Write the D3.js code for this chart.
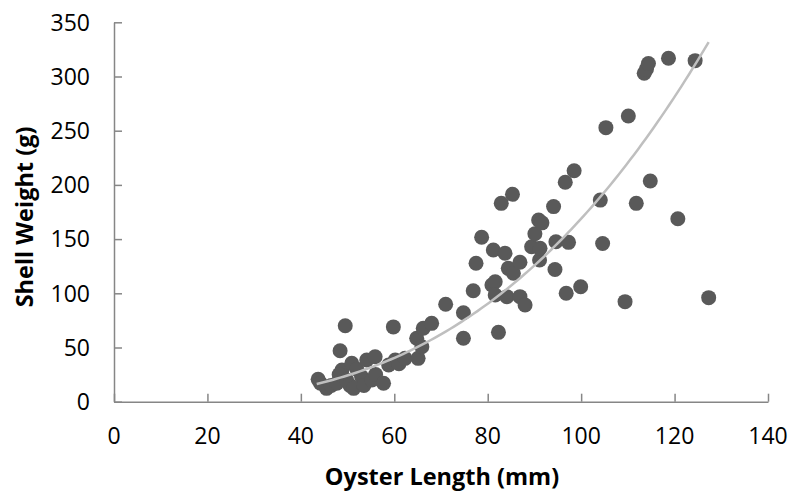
<!DOCTYPE html>
<html><head><meta charset="utf-8">
<script src="https://cdn.jsdelivr.net/npm/d3@7"></script>
<style>
body{margin:0;background:#fff;}
text{font-family:"Open Sans",sans-serif;fill:#000;}
</style></head>
<body><svg id="c" width="792" height="494"></svg>
<script>
const xTicks = [0,20,40,60,80,100,120,140];
const yTicks = [0,50,100,150,200,250,300,350];
const lengthMm = [43.7,44.2,45.5,46.5,47.7,48.4,48.8,48.2,49.5,49.8,50.5,50.9,51.3,52,53,53.5,54.1,55.2,55.9,56,57.7,58.8,59.8,60.2,61,62.3,64.8,65.1,65.9,66.2,68,71,74.8,74.8,82.3,
76.9,77.5,78.7,80.9,81.2,81.6,81.6,82.9,83.7,84.1,84.4,85.3,85.5,86.9,86.9,88,89.4,90.1,90.9,91.6,91.1,91.2,94.1,94.4,94.6,96.6,96.8,97.3,98.5,99.9,104.1,104.6,105.3,109.4,110.1,111.8,113.5,114.0,114.4,114.8,118.7,120.7,124.4,127.3];
const weightG = [20.6,17,12.3,15,17,47,29.3,25,70,20,15,35.4,12.3,30,23,15,38.5,20,41.5,25,17,33.9,69,38.5,35,40,58.5,40,50.7,67.7,72.3,89.9,82,58.5,64,
102.4,127.7,151.7,107.7,140,110.7,98.4,183,137,96.9,123,191.3,118.5,128.6,96.9,89.2,143,155,167.6,165,130.7,141.5,180,122,147.6,202.4,100,147,213,106,186,146,252.8,92.3,263.5,183,303,307,312,203.6,316.8,168.8,314.6,96];
// power trendline y = a * x^b
const trendA = 4.24e-4, trendB = 2.8, trendFrom = 43.4, trendTo = 127.3;

const svg = d3.select("#c");
const x = d3.scaleLinear().domain([0,140]).range([114,768]);
const y = d3.scaleLinear().domain([0,350]).range([401.7,22.3]);
const axisColor = "#868686";

// axes
const gx = svg.append("g").attr("transform","translate(0,"+y(0)+")")
  .call(d3.axisBottom(x).tickValues(xTicks).tickSizeInner(-8).tickSizeOuter(0).tickPadding(999));
const gy = svg.append("g").attr("transform","translate("+x(0)+",0)")
  .call(d3.axisLeft(y).tickValues(yTicks).tickSizeInner(-8).tickSizeOuter(0).tickPadding(999));
[gx,gy].forEach(g=>{
  g.selectAll("path.domain").attr("stroke",axisColor).attr("stroke-width",1.5);
  g.selectAll(".tick line").attr("stroke",axisColor).attr("stroke-width",1.5);
  g.selectAll(".tick text").remove();
});
// tick labels
svg.append("g").selectAll("text").data(xTicks).join("text")
  .attr("x",d=>x(d)).attr("y",444).attr("text-anchor","middle")
  .attr("font-size",23).text(d=>d);
svg.append("g").selectAll("text").data(yTicks).join("text")
  .attr("x",90).attr("y",d=>y(d)+8.3).attr("text-anchor","end")
  .attr("font-size",23).text(d=>d);

// titles
svg.append("text").attr("x",442).attr("y",485).attr("text-anchor","middle")
  .attr("font-size",23.5).attr("font-weight","bold").text("Oyster Length (mm)");
svg.append("text").attr("transform","translate(33,217) rotate(-90)").attr("text-anchor","middle")
  .attr("font-size",23.5).attr("font-weight","bold").text("Shell Weight (g)");

// points
const pts = lengthMm.map((v,i)=>({x:v,y:weightG[i]}));
svg.append("g").selectAll("circle").data(pts).join("circle")
  .attr("cx",d=>x(d.x)).attr("cy",d=>y(d.y)).attr("r",7.5)
  .attr("fill","#595959");

// trendline
const tx = d3.range(0,101).map(i=>trendFrom+(trendTo-trendFrom)*i/100);
svg.append("path").datum(tx)
  .attr("d",d3.line().x(d=>x(d)).y(d=>y(trendA*Math.pow(d,trendB))))
  .attr("fill","none").attr("stroke","#bfbfbf").attr("stroke-width",2.5);
</script></body></html>
